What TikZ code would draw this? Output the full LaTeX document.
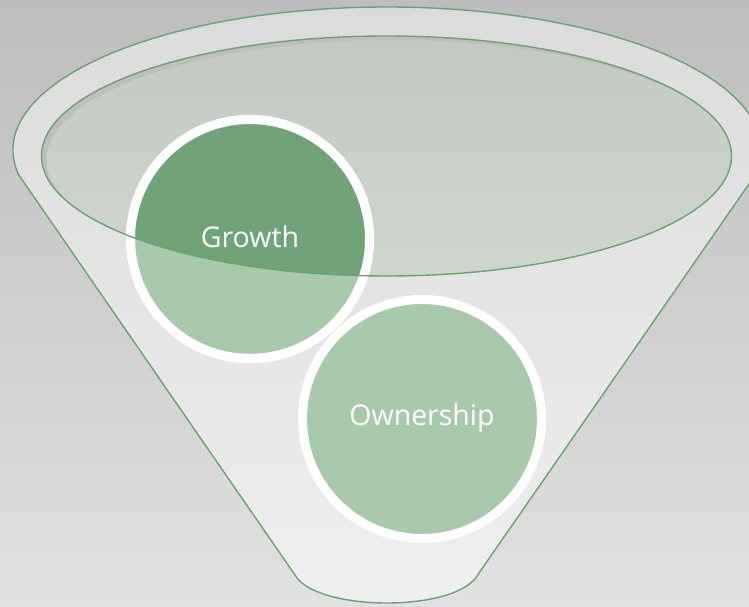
\documentclass[tikz,border=0pt]{standalone}
\usepackage{fontspec}
\newfontfamily\labelfont{Open Sans}
\definecolor{bgtop}{RGB}{189,189,189}
\definecolor{bgbot}{RGB}{225,225,225}
\definecolor{bodytop}{RGB}{219,219,219}
\definecolor{bodybot}{RGB}{239,239,239}
\definecolor{glasstop}{RGB}{195,202,195}
\definecolor{glassbot}{RGB}{206,214,206}
\definecolor{glassshadow}{RGB}{190,190,190}
\definecolor{edge}{RGB}{104,164,112}
\definecolor{leafdark}{RGB}{112,163,119}
\definecolor{leaflight}{RGB}{169,201,171}
\tikzset{
  bubble/.style={circle, draw=white, line width=9pt, fill=leaflight,
    minimum size=239pt, inner sep=0pt},
  caption/.style={text=white, font=\labelfont\fontsize{28.5}{34}\selectfont,
    anchor=base, inner sep=0pt},
  outline/.style={draw=edge, line width=1.4pt}
}
% funnel silhouette: rim arc over the top, two sloping sides, rounded spout
\newcommand\funnelpath{(18.68,432.17)
  arc[start angle=190, end angle=-10, x radius=374, y radius=143]
  -- (479,34) .. controls (469,14) and (429,4) .. (387,4)
  .. controls (345,4) and (305,14) .. (295,32) -- cycle}
\newcommand\mouthpath{(386.5,451) ellipse[x radius=345, y radius=120]}
\begin{document}
\begin{tikzpicture}[x=1pt,y=1pt]
\useasboundingbox (0,0) rectangle (749,607);
\clip (0,0) rectangle (749,607);
% backdrop
\shade[top color=bgtop, bottom color=bgbot] (0,0) rectangle (749,607);
% funnel body
\shade[top color=bodytop, bottom color=bodybot] \funnelpath;
% glass mouth with a soft inner shadow along its upper left edge
\fill[glassshadow] \mouthpath;
\begin{scope}
  \clip \mouthpath;
  \shade[top color=glasstop, bottom color=glassbot]
    (391.5,447) ellipse[x radius=345, y radius=120];
\end{scope}
% bubbles
\node[bubble] (g) at (250,368) {};
\node[bubble] (o) at (422,188) {};
\begin{scope}
  \clip \mouthpath;
  \fill[leafdark] (g.center) circle[radius=119.5];
\end{scope}
\draw[white, line width=9pt] (g.center) circle[radius=119.5];
% outlines
\path[outline] \mouthpath;
\path[outline] \funnelpath;
% labels
\node[caption] (gt) at (250,359) {Growth};
\node[caption] (ot) at (422,181) {Ownership};
\end{tikzpicture}
\end{document}
